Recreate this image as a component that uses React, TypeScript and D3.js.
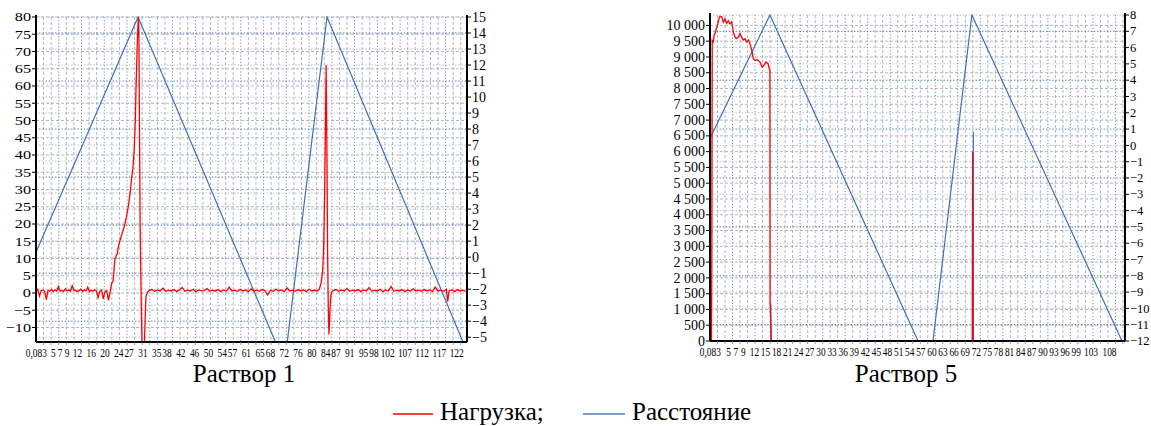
import React, { useEffect, useRef } from "react";
import * as d3 from "d3";

// ---------- Data: Раствор 1 ----------
const xTicks1 = [0.083, 5, 7, 9, 12, 16, 20, 24, 27, 31, 35, 38, 42, 46, 50, 54, 57, 61, 65, 68, 72, 76, 80, 84, 87, 91, 95, 98, 102, 107, 112, 117, 122];
const xLabels1 = ["0,083", "5", "7", "9", "12", "16", "20", "24", "27", "31", "35", "38", "42", "46", "50", "54", "57", "61", "65", "68", "72", "76", "80", "84", "87", "91", "95", "98", "102", "107", "112", "117", "122"];
const yLeftTicks1 = [80, 75, 70, 65, 60, 55, 50, 45, 40, 35, 30, 25, 20, 15, 10, 5, 0, -5, -10];
const yRightTicks1 = [15, 14, 13, 12, 11, 10, 9, 8, 7, 6, 5, 4, 3, 2, 1, 0, -1, -2, -3, -4, -5];

// Нагрузка (time, value)
const load1: [number, number][] = [
  [0, 0.6], [0.5, 1.1], [1.0, -0.9], [1.5, 0.7], [2.0, 0.9], [2.5, 0.5], [3.0, -1.9], [3.5, 0.8], [4.0, 0.5], [4.5, 1.0],
  [5.0, 0.4], [5.5, 0.9], [6.0, 0.6], [6.5, 1.9], [7.0, 0.5], [7.5, 0.8], [8.0, 0.4], [8.5, 1.2], [9.0, 0.6], [9.5, 0.9],
  [10.0, 0.5], [10.5, 2.1], [11.0, 0.7], [11.5, 0.8], [12.0, 0.4], [12.5, 0.7], [13.0, 1.1], [13.5, 0.5], [14.0, 0.9], [14.5, 0.6],
  [15.0, 1.7], [15.5, 0.4], [16.0, 0.8], [16.5, 0.5], [17.0, 0.9], [17.5, 0.6], [18.0, -1.3], [18.5, 0.5], [19.0, 0.9], [19.5, -1.7],
  [20.0, 0.4], [20.5, 0.7], [21.0, -2.1],
  [21.5, 0.3], [22.0, 3], [22.3, 3.2], [22.5, 5], [22.9, 10], [23.1, 10.2], [23.3, 11], [23.6, 11.3], [23.8, 13], [24.3, 15], [24.9, 17], [25.5, 19], [26.0, 21],
  [26.4, 23], [26.9, 26], [27.3, 29], [27.7, 33], [28.1, 36], [28.5, 42], [28.8, 50], [29.0, 59], [29.3, 70], [29.5, 76],
  [29.7, 80], [29.85, 75], [30.0, 50], [30.2, 20], [30.4, 5], [30.6, -8], [30.8, -16], [31.4, -16], [31.7, -6], [31.9, -1], [32.3, 0.2],
  [32.8, 0.7], [33.6, 1.0], [34.4, 0.5], [35.2, 0.9], [36.0, 0.6], [36.8, 1.4], [37.6, 0.5], [38.4, 0.8], [39.2, 0.6], [40.0, 1.0],
  [40.8, 0.4], [41.6, 0.9], [42.4, 1.6], [43.2, 0.5], [44.0, 0.8], [44.8, 0.6], [45.6, 1.1], [46.4, 0.4], [47.2, 0.9], [48.0, 0.6],
  [48.8, 0.7], [49.6, 1.3], [50.4, 0.5], [51.2, 0.8], [52.0, 0.6], [52.8, 1.0], [53.6, 0.4], [54.4, 0.9], [55.2, 0.5], [56.0, 1.7],
  [56.8, 0.6], [57.6, 0.8], [58.4, 0.5], [59.2, 1.0], [60.0, 0.6], [60.8, 0.9], [61.6, 0.4], [62.4, 1.2], [63.2, 0.6], [64.0, 0.8],
  [64.8, 0.5], [65.6, 1.0], [66.4, 0.7], [67.2, -0.6], [68.0, 0.8], [68.8, 0.5], [69.6, 1.1], [70.4, 0.6], [71.2, 0.9], [72.0, 0.4],
  [72.8, 1.5], [73.6, 0.6], [74.4, 0.8], [75.2, 0.5], [76.0, 1.0], [76.8, 0.6], [77.6, 0.9], [78.4, 0.4], [79.2, 1.1], [80.0, 0.6],
  [80.8, 0.8], [81.6, 0.6],
  [82.2, 1.2], [82.7, 3], [83.1, 6], [83.4, 12], [83.7, 28], [83.95, 48], [84.15, 66], [84.35, 44], [84.55, 14], [84.75, -3],
  [84.95, -12], [85.15, -8], [85.4, -2], [85.7, 0.3],
  [86.2, 0.7], [87.0, 1.0], [87.8, 0.5], [88.6, 0.9], [89.4, 0.6], [90.2, 1.3], [91.0, 0.5], [91.8, 0.8], [92.6, 0.6], [93.4, 1.0],
  [94.2, 0.4], [95.0, 0.9], [95.8, 0.6], [96.6, 1.6], [97.4, 0.5], [98.2, 0.8], [99.0, 0.6], [99.8, 1.1], [100.6, 0.4], [101.4, 0.9],
  [102.2, 0.6], [103.0, 1.9], [103.8, 0.5], [104.6, 0.8], [105.4, 0.6], [106.2, 1.0], [107.0, 0.4], [107.8, 0.9], [108.6, 0.5], [109.4, 1.2],
  [110.2, 0.6], [111.0, 0.8], [111.8, 0.5], [112.6, 1.0], [113.4, 0.6], [114.2, 0.9], [115.0, 0.4], [115.8, 1.7], [116.6, 0.6], [117.4, 0.8],
  [118.2, 0.5], [119.0, 1.1], [119.4, -2.5], [119.8, 0.6], [120.6, 0.9], [121.4, 0.4], [122.2, 1.0], [123.0, 0.6], [123.8, 0.8], [124.6, 0.5],
];
// Расстояние (time, value)
const dist1: [number, number][] = [[0, 0.3], [29.6, 15.0], [72.1, -6.65], [84.4, 15.0], [125, -5.9]];
const distGlitch1: [number, number][][] = [];

// ---------- Data: Раствор 5 ----------
const xTicks5 = [0.083, 5, 7, 9, 12, 15, 18, 21, 24, 27, 30, 33, 36, 39, 42, 45, 48, 51, 54, 57, 60, 63, 66, 69, 72, 75, 78, 81, 84, 87, 90, 93, 96, 99, 103, 108];
const xLabels5 = ["0,083", "5", "7", "9", "12", "15", "18", "21", "24", "27", "30", "33", "36", "39", "42", "45", "48", "51", "54", "57", "60", "63", "66", "69", "72", "75", "78", "81", "84", "87", "90", "93", "96", "99", "103", "108"];
const yLeftTicks5 = [10000, 9500, 9000, 8500, 8000, 7500, 7000, 6500, 6000, 5500, 5000, 4500, 4000, 3500, 3000, 2500, 2000, 1500, 1000, 500, 0];
const yRightTicks5 = [8, 7, 6, 5, 4, 3, 2, 1, 0, -1, -2, -3, -4, -5, -6, -7, -8, -9, -10, -11, -12];

const load5: [number, number][] = [
  [0, 0], [0.4, 0], [0.5, 2600], [0.6, 9525], [0.9, 9480], [1.1, 9700], [1.35, 9737], [1.7, 9900], [2.0, 10000], [2.4, 10200],
  [2.7, 10285], [3.2, 10263], [3.6, 10100], [4.05, 10210], [4.5, 10070], [4.95, 10150], [5.4, 10050], [5.85, 10110], [6.1, 9950],
  [6.3, 9790], [6.75, 9630], [7.2, 9580], [7.65, 9630], [8.1, 9740], [8.55, 9630], [9.0, 9540], [9.45, 9580], [9.9, 9470],
  [10.4, 9540], [10.8, 9420], [11.3, 9210], [11.7, 8945], [12.2, 8890], [12.8, 8915], [13.5, 8840], [14.1, 8680], [14.6, 8735],
  [15.1, 8840], [15.7, 8790], [16.0, 8630], [16.2, 8600], [16.25, 1200], [16.6, 0], [70.9, 0], [71.0, 6000], [71.1, 0], [112.2, 0],
];
const dist5: [number, number][] = [[0, -13], [0.1, -13], [0.15, 0.5], [16.2, 8.0], [59.45, -13.6], [70.8, 8.0], [112.2, -12.4]];
const distGlitch5: [number, number][][] = [
  [[16.45, -12.5], [16.45, -9.7]],
  [[71.2, -12.5], [71.2, 0.8]],
];

const legendLabels = ["Нагрузка;", "Расстояние"];

const FONT = "Liberation Serif";
const RED = "#ff0000";
const BLUE = "#3f6fb8";

const locale = d3.formatLocale({ decimal: ",", thousands: "\u00a0", grouping: [3], currency: ["", ""], minus: "\u2212" });
const fmtInt = locale.format("d");
const fmtThousands = locale.format(",d");

type PanelCfg = {
  id: string;
  x0: number; x1: number; yTop: number; yBottom: number;
  xDomain: [number, number];
  yLDomain: [number, number];
  yRDomain: [number, number];
  xTicks: number[]; xLabels: string[];
  yLTicks: number[]; yRTicks: number[];
  yLFmt: (v: number) => string;
  yLFont: number; yRFont: number; yLScaleX: number;
  load: [number, number][];
  dist: [number, number][];
  glitches: [number, number][][];
  gridStep: number;
  title: string; titleX: number;
};

function drawPanel(root: d3.Selection<SVGSVGElement, unknown, null, undefined>, p: PanelCfg) {
  const g = root.append("g");
  const x = d3.scaleLinear().domain(p.xDomain).range([p.x0, p.x1]);
  const yL = d3.scaleLinear().domain(p.yLDomain).range([p.yBottom, p.yTop]);
  const yR = d3.scaleLinear().domain(p.yRDomain).range([p.yBottom, p.yTop]);
  const lineL = d3.line<[number, number]>().x((d) => x(d[0])).y((d) => yL(d[1]));
  const lineR = d3.line<[number, number]>().x((d) => x(d[0])).y((d) => yR(d[1]));
  const vGrid = d3.range(p.xDomain[0] + p.gridStep, p.xDomain[1], p.gridStep);

  g.append("clipPath").attr("id", p.id).append("rect")
    .attr("x", p.x0).attr("y", p.yTop - 1).attr("width", p.x1 - p.x0).attr("height", p.yBottom - p.yTop + 1.5);

  g.selectAll(null).data(vGrid).join("line")
    .attr("x1", (d) => x(d)).attr("x2", (d) => x(d)).attr("y1", p.yTop).attr("y2", p.yBottom)
    .attr("stroke", (_d, i) => (i % 3 === 2 ? "#4a6fa5" : "#9aa4b4")).attr("stroke-width", 0.8)
    .attr("stroke-dasharray", (_d, i) => (i % 3 === 2 ? "1.2,2" : "3,2"));
  g.selectAll(null).data(p.yLTicks).join("line")
    .attr("x1", p.x0).attr("x2", p.x1).attr("y1", (d) => yL(d)).attr("y2", (d) => yL(d))
    .attr("stroke", "#9aa4b4").attr("stroke-width", 0.8).attr("stroke-dasharray", "3,2");
  g.selectAll(null).data(p.yRTicks).join("line")
    .attr("x1", p.x0).attr("x2", p.x1).attr("y1", (d) => yR(d)).attr("y2", (d) => yR(d))
    .attr("stroke", (_d, i) => (i % 3 === 1 ? "#3d64a0" : "#8ea6c8"))
    .attr("stroke-width", (_d, i) => (i % 3 === 1 ? 1 : 0.8)).attr("stroke-dasharray", "1.2,2");

  const c = g.append("g").attr("clip-path", `url(#${p.id})`);
  c.append("path").attr("d", lineR(p.dist) || "").attr("fill", "none").attr("stroke", BLUE).attr("stroke-width", 1.2);
  p.glitches.forEach((gl) => {
    c.append("path").attr("d", lineR(gl) || "").attr("fill", "none").attr("stroke", BLUE).attr("stroke-width", 1.2);
  });
  c.append("path").attr("d", lineL(p.load) || "").attr("fill", "none").attr("stroke", RED).attr("stroke-width", 1.3);

  const axisLine = (x1: number, y1: number, x2: number, y2: number) =>
    g.append("line").attr("x1", x1).attr("y1", y1).attr("x2", x2).attr("y2", y2).attr("stroke", "#000").attr("stroke-width", 2);
  axisLine(p.x0, p.yTop - 2, p.x0, p.yBottom);
  axisLine(p.x1, p.yTop - 2, p.x1, p.yBottom);
  axisLine(p.x0, p.yBottom, p.x1, p.yBottom);

  const txt = (sel: d3.Selection<any, any, any, any>) =>
    sel.attr("font-family", FONT).style("font-family", FONT).attr("fill", "#000");

  const lt = g.selectAll(null).data(p.yLTicks).join("g");
  lt.append("line").attr("x1", p.x0 - 4).attr("x2", p.x0).attr("y1", (d) => yL(d)).attr("y2", (d) => yL(d))
    .attr("stroke", "#000").attr("stroke-width", 1);
  txt(lt.append("text")
    .attr("transform", (d) => `translate(${p.x0 - 5},${yL(d) + p.yLFont * 0.33}) scale(${p.yLScaleX},1)`)
    .attr("text-anchor", "end").attr("font-size", p.yLFont).text((d) => p.yLFmt(d)));

  const rt = g.selectAll(null).data(p.yRTicks).join("g");
  rt.append("line").attr("x1", p.x1).attr("x2", p.x1 + 4).attr("y1", (d) => yR(d)).attr("y2", (d) => yR(d))
    .attr("stroke", "#000").attr("stroke-width", 1);
  txt(rt.append("text").attr("x", p.x1 + 5).attr("y", (d) => yR(d) + p.yRFont * 0.33)
    .attr("font-size", p.yRFont).text((d) => fmtInt(d)));

  g.selectAll(null).data(vGrid).join("line")
    .attr("x1", (d) => x(d)).attr("x2", (d) => x(d)).attr("y1", p.yBottom).attr("y2", p.yBottom + 3)
    .attr("stroke", "#6b7fa0").attr("stroke-width", 0.8);

  txt(g.selectAll(null).data(p.xTicks).join("text")
    .attr("transform", (d) => `translate(${x(d)},${p.yBottom + 15}) scale(0.72,1)`)
    .attr("text-anchor", "middle").attr("font-size", 13).text((_d, i) => p.xLabels[i]));

  txt(g.append("text").attr("x", p.titleX).attr("y", 382).attr("text-anchor", "middle").attr("font-size", 25).text(p.title));
}

export default function App() {
  const ref = useRef<SVGSVGElement>(null);
  useEffect(() => {
    if (!ref.current) return;
    const root = d3.select(ref.current);
    root.selectAll("*").remove();
    drawPanel(root, {
      id: "c1", x0: 36, x1: 467, yTop: 17, yBottom: 342,
      xDomain: [0, 125], yLDomain: [-14.2, 80], yRDomain: [-5.3, 15],
      xTicks: xTicks1, xLabels: xLabels1, yLTicks: yLeftTicks1, yRTicks: yRightTicks1,
      yLFmt: fmtInt, yLFont: 13, yRFont: 14, yLScaleX: 1.25,
      load: load1, dist: dist1, glitches: distGlitch1, gridStep: 2.2,
      title: "Раствор 1", titleX: 244,
    });
    drawPanel(root, {
      id: "c5", x0: 710, x1: 1125, yTop: 15, yBottom: 341,
      xDomain: [0, 112.2], yLDomain: [0, 10330], yRDomain: [-12, 8],
      xTicks: xTicks5, xLabels: xLabels5, yLTicks: yLeftTicks5, yRTicks: yRightTicks5,
      yLFmt: fmtThousands, yLFont: 14, yRFont: 12.5, yLScaleX: 1,
      load: load5, dist: dist5, glitches: distGlitch5, gridStep: 2.03,
      title: "Раствор 5", titleX: 906,
    });
    const lg = root.append("g");
    const items = [
      { color: RED, x1: 393, x2: 433, tx: 440, label: legendLabels[0] },
      { color: "#4f81bd", x1: 583, x2: 625, tx: 632, label: legendLabels[1] },
    ];
    items.forEach((it) => {
      lg.append("line").attr("x1", it.x1).attr("x2", it.x2).attr("y1", 414).attr("y2", 414)
        .attr("stroke", it.color).attr("stroke-width", 1.5);
      lg.append("text").attr("x", it.tx).attr("y", 420).attr("font-size", 25)
        .attr("font-family", FONT).style("font-family", FONT).attr("fill", "#000").text(it.label);
    });
  }, []);
  return <svg ref={ref} width={1151} height={426} style={{ position: "absolute", left: 0, top: 0 }} />;
}
